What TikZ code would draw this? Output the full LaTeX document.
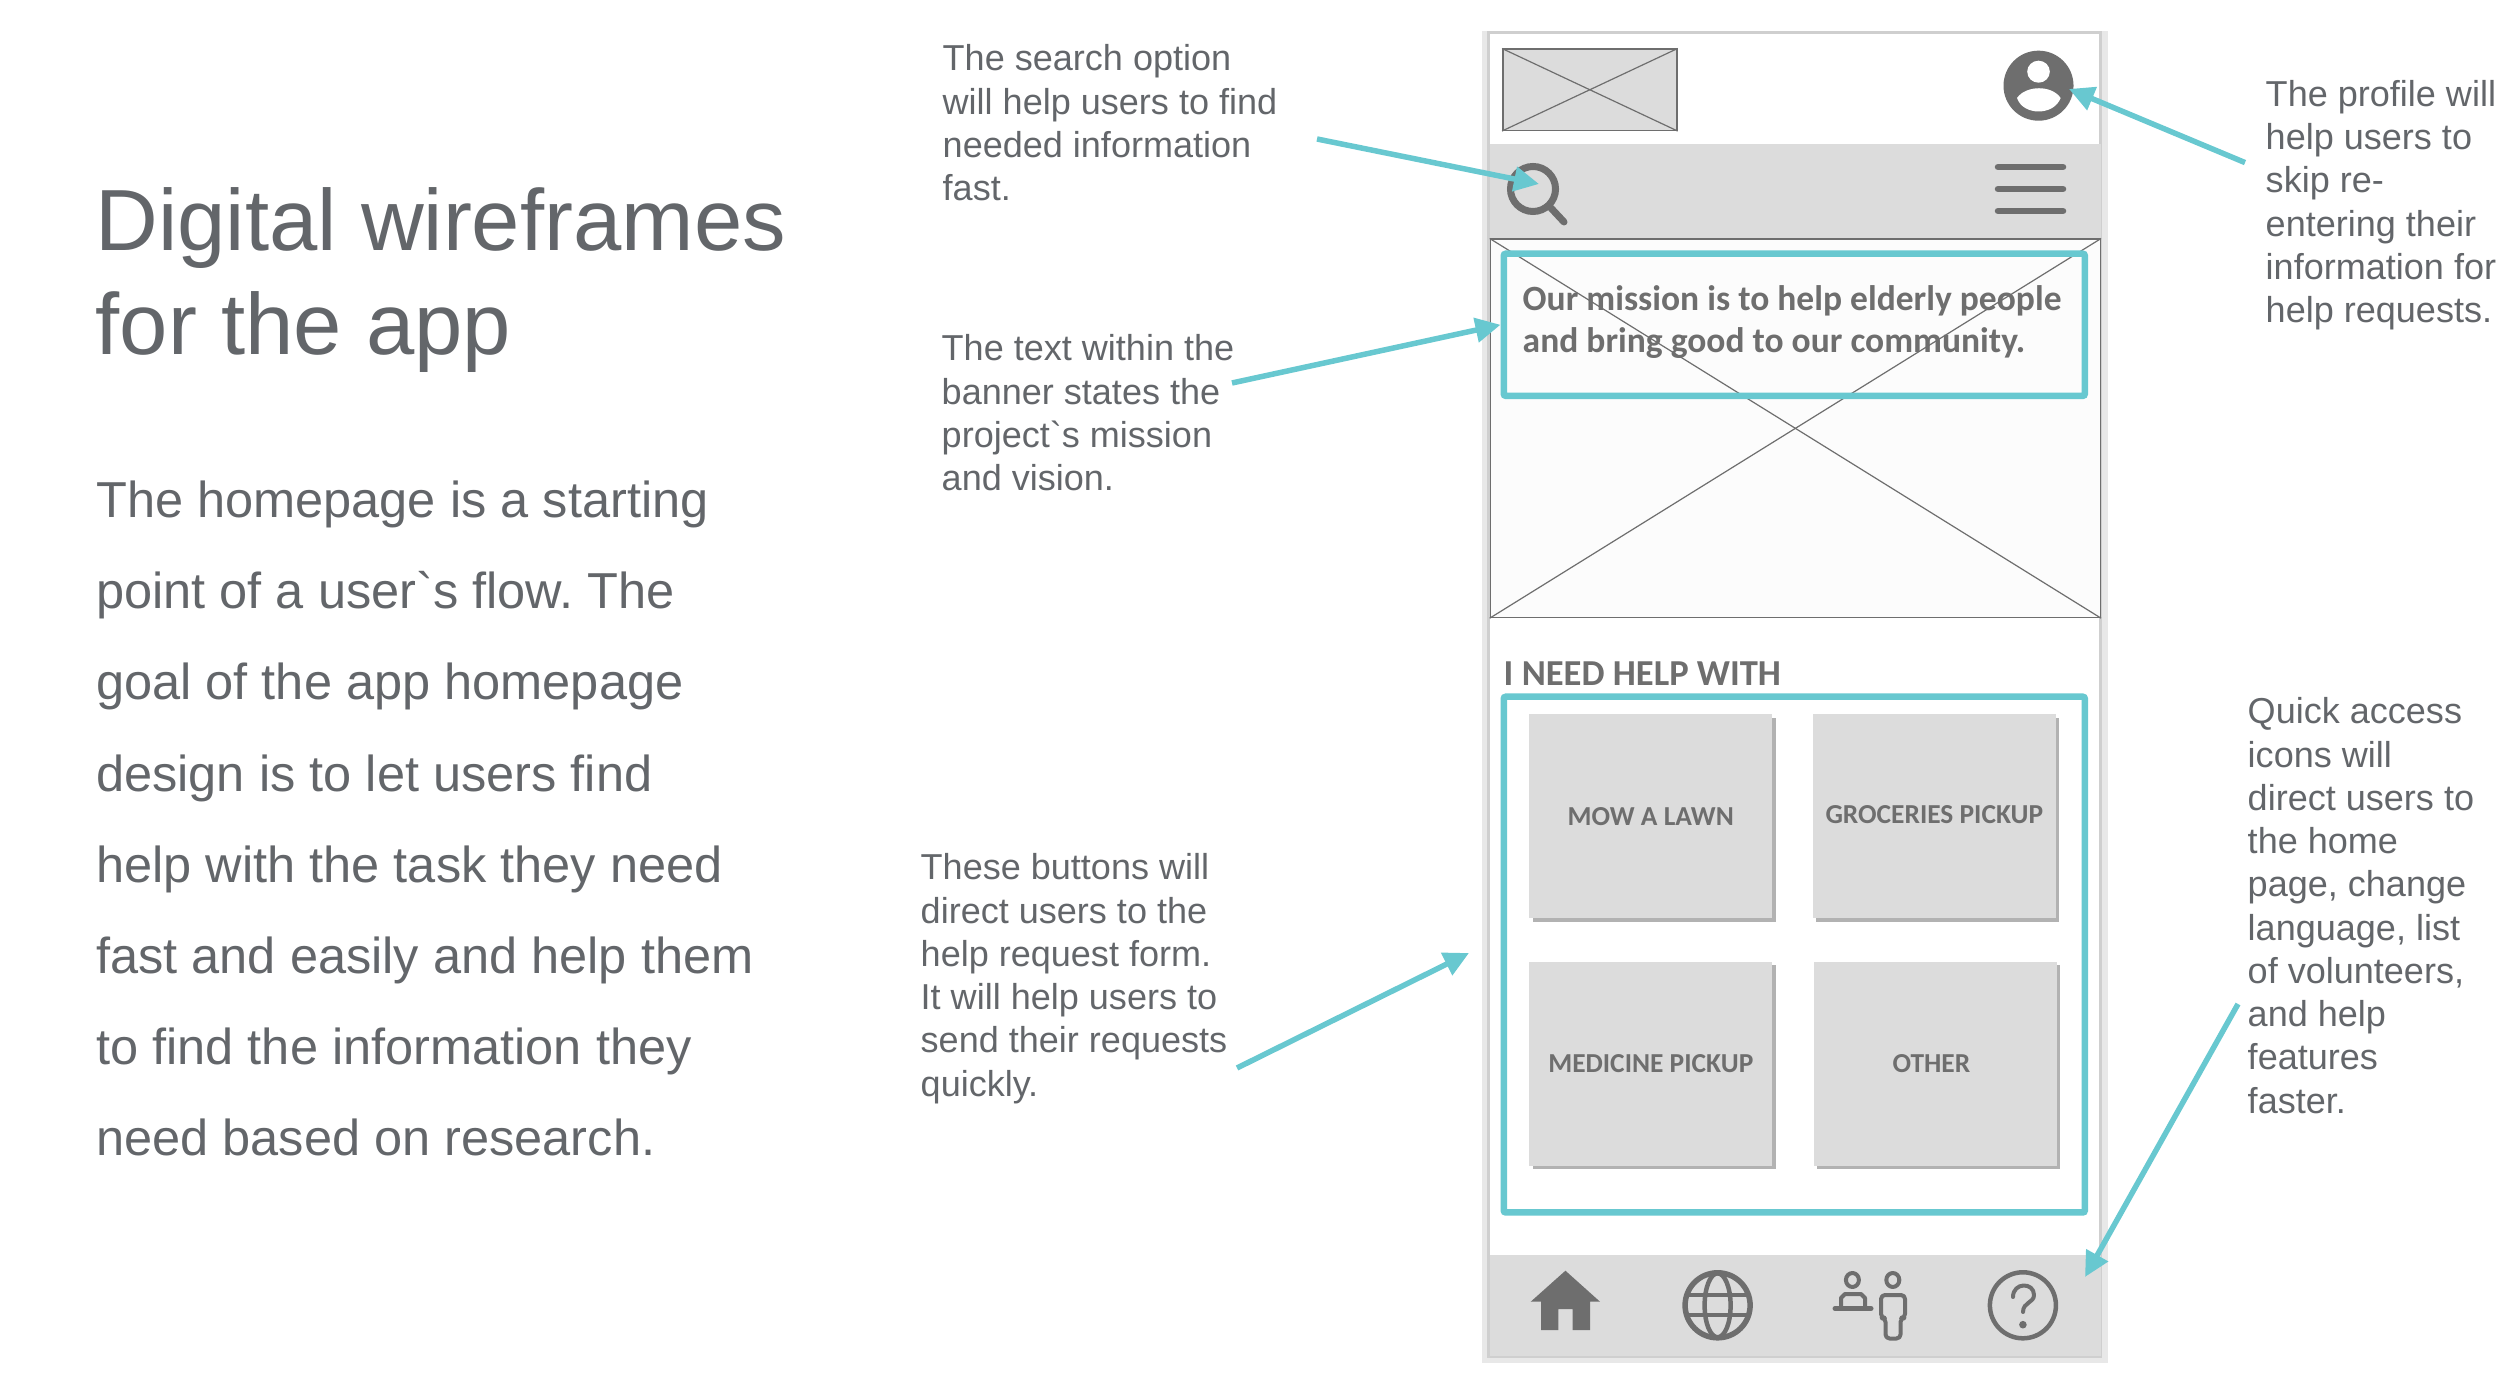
\documentclass[tikz,border=0pt]{standalone}
\usepackage{fontspec}
\usepackage{tikz}
\usetikzlibrary{arrows.meta,positioning,shadows}

\newfontfamily\notefont{Liberation Sans}
\newfontfamily\uifont{Carlito}
\frenchspacing

\definecolor{notegrey}{HTML}{63666A}
\definecolor{wiregrey}{HTML}{6E6E6E}
\definecolor{panelgrey}{HTML}{DCDCDC}
\definecolor{framegrey}{HTML}{E8E8E8}
\definecolor{edgegrey}{HTML}{CFCFCF}
\definecolor{teal}{HTML}{68C8D0}
\definecolor{bannerwhite}{HTML}{FCFCFC}

\begin{document}
\begin{tikzpicture}[x=0.01cm, y=-0.01cm, >={Triangle[length=0.25cm, width=0.24cm]}]
		
		\tikzstyle{title}=[anchor=north west, inner sep=0, align=left, text=notegrey,
		font=\notefont\fontsize{24.7}{29.6}\selectfont]
		\tikzstyle{body}=[anchor=north west, inner sep=0, align=left, text=notegrey,
		font=\notefont\fontsize{14.37}{25.9}\selectfont]
		\tikzstyle{note}=[anchor=north west, inner sep=0, align=left, text=notegrey,
		font=\notefont\fontsize{10.25}{12.3}\selectfont]
		\tikzstyle{panel}=[rectangle, fill=panelgrey, anchor=north west, inner sep=0, minimum width=6.1cm]
		\tikzstyle{wire}=[draw=wiregrey, line width=0.012cm]
		\tikzstyle{markbox}=[draw=teal, line width=0.065cm, rounded corners=0.02cm, anchor=north west,
		inner sep=0, minimum width=5.807cm]
		\tikzstyle{btn}=[rectangle, fill=panelgrey, anchor=north west, inner sep=0, minimum width=2.43cm,
		minimum height=2.04cm, text=wiregrey, font=\uifont\bfseries\fontsize{7.8}{9}\selectfont,
		drop shadow={shadow xshift=0.035cm, shadow yshift=-0.035cm, fill=black, opacity=0.3}]
		\tikzstyle{pointer}=[->, draw=teal, line width=0.055cm]
		\tikzstyle{icon}=[draw=wiregrey, line width=0.045cm, line cap=round, line join=round]
		
		\useasboundingbox (0,0) rectangle (2500,1392);
		
		% Left column
		\node[title] (heading) at (95,187) {Digital wireframes\\for the app};
		\node[body] (intro) at (95.5,480.5) {The homepage is a starting\\
			point of a user`s flow. The\\
			goal of the app homepage\\
			design is to let users find\\
			help with the task they need\\
			fast and easily and help them\\
			to find the information they\\
			need based on research.};
		
		% Notes
		\node[note] (searchnote) at (942,44) {The search option\\will help users to find\\needed information\\fast.};
		\node[note] (bannernote) at (941,334) {The text within the\\banner states the\\project`s mission\\and vision.};
		\node[note] (buttonnote) at (920,853) {These buttons will\\direct users to the\\help request form.\\It will help users to\\send their requests\\quickly.};
		\node[note] (profilenote) at (2265,79.5) {The profile will\\help users to\\skip re-\\entering their\\information for\\help requests.};
		\node[note] (quicknote) at (2247,697) {Quick access\\icons will\\direct users to\\the home\\page, change\\language, list\\of volunteers,\\and help\\features\\faster.};
		
		% Phone frame
		\node[rectangle, fill=framegrey, anchor=north west, inner sep=0, minimum width=6.255cm, minimum height=13.32cm] (frame) at (1481.5,30) {};
		\node[rectangle, fill=white, draw=edgegrey, line width=0.03cm, anchor=north west, inner sep=0, minimum width=6.12cm, minimum height=13.23cm] (screen) at (1487,31.5) {};
		
		% Top bar
		\node[rectangle, fill=panelgrey, draw=wiregrey, line width=0.015cm, anchor=north west, inner sep=0, minimum width=1.74cm, minimum height=0.81cm] (logo) at (1502,48.5) {};
		\draw[wire] (logo.north west) -- (logo.south east);
		\draw[wire] (logo.north east) -- (logo.south west);
		\node[circle, fill=wiregrey, inner sep=0, minimum size=0.7cm] (profile) at (2038.5,85.7) {};
		\fill[white] (2038.5,71.7) ellipse (11.3 and 11);
		\fill[white] (2017,98) .. controls (2026,85) and (2052,85) .. (2060.6,98) .. controls (2054,116) and (2023,116) .. cycle;
		\node[panel, minimum height=0.96cm] (navbar) at (1489.5,143) {};
		\node[circle, draw=wiregrey, line width=0.07cm, inner sep=0, minimum size=0.45cm] (search) at (1533,189) {};
		\draw[icon, line width=0.07cm] (1550,207) -- (1564,222);
		\foreach \y in {167,189,211}
		\draw[icon, line width=0.065cm] (1998,\y) -- (2063,\y);
		
		% Banner
		\node[rectangle, fill=bannerwhite, draw=wiregrey, line width=0.015cm, anchor=north west, inner sep=0, minimum width=6.095cm, minimum height=3.78cm] (banner) at (1489.7,238.5) {};
		\draw[wire] (banner.north west) -- (banner.south east);
		\draw[wire] (banner.north east) -- (banner.south west);
		\node[anchor=north west, inner sep=0, align=left, text=wiregrey, font=\uifont\bfseries\fontsize{10.1}{11.8}\selectfont] (mission) at (1522,285) {Our mission is to help elderly people\\and bring good to our community.};
		\node[markbox, minimum height=1.42cm] (missionbox) at (1500.5,250.5) {};
		
		% Help buttons
		\node[anchor=west, inner sep=0, text=wiregrey, font=\uifont\bfseries\fontsize{10.4}{12}\selectfont] (helptitle) at (1503,674) {I NEED HELP WITH};
		\node[markbox, minimum height=5.154cm] (helpbox) at (1500.5,693.5) {};
		\node[btn] (mow) at (1528.5,713.5) {\raisebox{-0.01cm}{MOW A LAWN}};
		\node[btn, right=0.39cm of mow] (groceries) {\raisebox{0.03cm}{GROCERIES PICKUP}};
		\node[btn, below=0.42cm of mow] (medicine) {MEDICINE PICKUP};
		\node[btn, right=0.40cm of medicine] (other) {\hspace*{-0.08cm}OTHER};
		
		% Bottom bar
		\node[panel, minimum height=1.007cm] (tabbar) at (1489.5,1254.3) {};
		\fill[wiregrey] (1565.4,1270.7) -- (1600,1301.7) -- (1590,1301.7) -- (1590,1330) -- (1572.7,1330) -- (1572.7,1309) -- (1558.4,1309) -- (1558.4,1330) -- (1541,1330) -- (1541,1301.7) -- (1530.7,1301.7) -- cycle;
		\node[circle, draw=wiregrey, line width=0.055cm, inner sep=0, minimum size=0.65cm] (globe) at (1717.6,1305.3) {};
		\draw[icon, line width=0.045cm] (globe.center) ellipse (13 and 32);
		\draw[icon, line width=0.045cm] (1688,1295) -- (1747,1295);
		\draw[icon, line width=0.045cm] (1688,1315) -- (1747,1315);
		\draw[icon, line width=0.04cm] (1852.4,1280) ellipse (6.5 and 7);
		\draw[icon, line width=0.04cm] (1841,1308) -- (1841,1298) -- (1845,1294) -- (1861,1294) -- (1865,1298) -- (1865,1308);
		\draw[icon, line width=0.05cm] (1835,1308.5) -- (1871,1308.5);
		\draw[icon, line width=0.04cm] (1892.8,1280) ellipse (6.5 and 7);
		\draw[icon, line width=0.04cm, rounded corners=0.04cm] (1885.5,1318) -- (1881,1318) -- (1881,1295) -- (1905,1295) -- (1905,1318) -- (1900.5,1318) -- (1900.5,1338.5) -- (1885.5,1338.5) -- cycle;
		\node[circle, draw=wiregrey, line width=0.045cm, inner sep=0, minimum size=0.66cm] (helpicon) at (2022.9,1305.3) {};
		\draw[icon, line width=0.04cm] (2013,1297) .. controls (2013,1282) and (2034,1282) .. (2034,1295) .. controls (2034,1303) and (2023,1302) .. (2023,1312);
		\fill[wiregrey] (2022.9,1324.7) circle (3.8);
		
		% Arrows
		\coordinate (searchtail) at (1317,139);
		\coordinate (searchtip) at (1539,184);
		\coordinate (bannertail) at (1232,383);
		\coordinate (profiletail) at (2245,162.6);
		\coordinate (profiletip) at (2069,89);
		\coordinate (buttontail) at (1237,1068);
		\coordinate (buttontip) at (1469,953);
		\coordinate (quicktail) at (2238,1004);
		\coordinate (quicktip) at (2085,1277);
		\draw[pointer] (searchtail) -- (searchtip);
		\draw[pointer] (bannertail) -- (missionbox.west);
		\draw[pointer] (profiletail) -- (profiletip);
		\draw[pointer] (buttontail) -- (buttontip);
		\draw[pointer] (quicktail) -- (quicktip);
		
\end{tikzpicture}
\end{document}
